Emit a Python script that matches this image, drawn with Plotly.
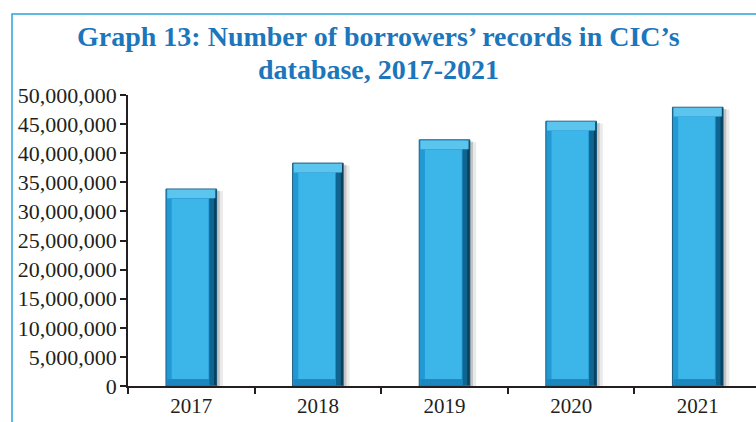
import plotly.graph_objects as go

years = ["2017", "2018", "2019", "2020", "2021"]
records = [33_850_000, 38_300_000, 42_300_000, 45_500_000, 47_900_000]
ytick_vals = [0, 5e6, 10e6, 15e6, 20e6, 25e6, 30e6, 35e6, 40e6, 45e6, 50e6]
ytick_text = ["0", "5,000,000", "10,000,000", "15,000,000", "20,000,000", "25,000,000",
              "30,000,000", "35,000,000", "40,000,000", "45,000,000", "50,000,000"]

title_lines = ["Graph 13: Number of borrowers\u2019 records in CIC\u2019s", "database, 2017-2021"]

W, H = 756, 422
ML, MT, MB = 128, 95, 36
PW, PH = W - ML, H - MT - MB
bw = 0.4
fig = go.Figure()

# soft shadow
fig.add_trace(go.Bar(x=years, y=[v - 400_000 for v in records], width=bw, offset=-bw / 2 + 0.05,
                     marker=dict(color="rgba(80,80,80,0.12)", line=dict(width=0)), hoverinfo="skip"))
fig.add_trace(go.Bar(x=years, y=[v - 300_000 for v in records], width=bw, offset=-bw / 2 + 0.025,
                     marker=dict(color="rgba(60,60,60,0.22)", line=dict(width=0)), hoverinfo="skip"))
# bar body (left / bottom bevel tone)
fig.add_trace(go.Bar(x=years, y=records, width=bw, offset=-bw / 2,
                     marker=dict(color="#2399D4", line=dict(color="#1A5F82", width=1))))
# right dark bevel
fig.add_trace(go.Bar(x=years, y=[v - 300_000 for v in records], base=150_000, width=0.055, offset=bw / 2 - 0.058,
                     marker=dict(color="#0F6592", line=dict(width=0)), hoverinfo="skip"))
fig.add_trace(go.Bar(x=years, y=[v - 300_000 for v in records], base=150_000, width=0.018, offset=bw / 2 - 0.02,
                     marker=dict(color="#0B3F5C", line=dict(width=0)), hoverinfo="skip"))
# bottom darker bevel
fig.add_trace(go.Bar(x=years, y=[1_000_000] * len(records), base=150_000, width=0.33, offset=-0.19,
                     marker=dict(color="#1C86BE", line=dict(width=0)), hoverinfo="skip"))
# top bevel highlight
fig.add_trace(go.Bar(x=years, y=[1_500_000] * len(records), base=[v - 1_600_000 for v in records],
                     width=0.38, offset=-0.19,
                     marker=dict(color="#5CC5EE", line=dict(width=0)), hoverinfo="skip"))
# inner face
fig.add_trace(go.Bar(x=years, y=[v - 2_900_000 for v in records], base=1_200_000, width=0.29, offset=-0.155,
                     marker=dict(color="#3CB5E9", line=dict(width=0)), hoverinfo="skip"))
# invisible trace carrying the tick-mark axis
fig.add_trace(go.Scatter(x=years, y=records, yaxis="y2", mode="markers",
                         marker=dict(opacity=0), hoverinfo="skip"))

fig.update_layout(
    width=W, height=H,
    barmode="overlay",
    showlegend=False,
    paper_bgcolor="white", plot_bgcolor="white",
    margin=dict(l=ML, r=0, t=MT, b=MB),
    font=dict(family="Liberation Serif", size=22, color="#231F20"),
    yaxis2=dict(overlaying="y", side="left", range=[0, 50_000_000], tickvals=ytick_vals,
                showticklabels=False, ticks="outside", ticklen=6, tickcolor="#231F20", tickwidth=1.5,
                showline=True, linecolor="#231F20", linewidth=1.5, showgrid=False, zeroline=False),
)
for i, line in enumerate(title_lines):
    yc = [36, 69][i]
    fig.add_annotation(text="<b>" + line + "</b>", xref="paper", yref="paper",
                       x=(378 - ML) / PW, y=(H - MB - yc) / PH, xanchor="center", yanchor="middle",
                       showarrow=False,
                       font=dict(family="Liberation Serif", size=28, color="#1C76BC"))
fig.update_xaxes(
    type="category", range=[-0.5, 4.46],
    showline=True, linecolor="#231F20", linewidth=1.5,
    ticks="outside", ticklen=6, tickcolor="#231F20", tickwidth=1.5, tickson="boundaries",
    showgrid=False, tickfont=dict(size=21), fixedrange=True,
)
fig.update_yaxes(
    selector=dict(overlaying=None),
    range=[0, 50_000_000], tickvals=ytick_vals, ticktext=ytick_text,
    showline=True, linecolor="#231F20", linewidth=1.5,
    ticks="", showgrid=False, zeroline=False, tickfont=dict(size=22), ticklabelstandoff=5,
)
# frame
fig.add_shape(type="rect", xref="paper", yref="paper",
              x0=(12 - ML) / PW, x1=1.2, y0=-0.3, y1=(H - 14 - MB) / PH,
              line=dict(color="#2AA3DD", width=1.5), fillcolor="rgba(0,0,0,0)", layer="below")

fig.write_html("out.html")
